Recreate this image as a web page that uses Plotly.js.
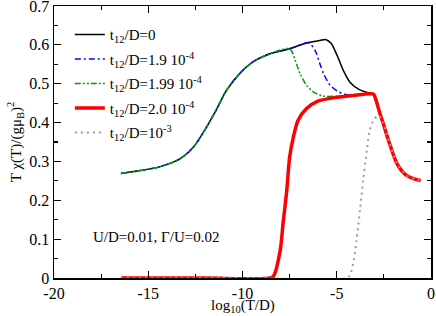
<!DOCTYPE html>
<html><head><meta charset="utf-8">
<script src="https://cdn.plot.ly/plotly-3.0.1.min.js"></script>
<style>html,body{margin:0;padding:0;background:#fff}#c{width:436px;height:316px}</style>
</head><body><div id="c"></div>
<script>
const xBlack = [-16.45,-15.5,-14.4,-13.3,-12.6,-11.9,-11.4,-10.85,-10.15,-9.45,-8.55,-7.5,-6.6,-5.9,-5.6,-5.3,-5.0,-4.65,-4.3,-3.8,-3.25,-3.05,-2.9,-2.75,-2.55,-2.2,-1.8,-1.3,-0.9,-0.55];
const yBlack = [0.269,0.276,0.286,0.307,0.337,0.389,0.432,0.483,0.526,0.556,0.577,0.590,0.605,0.611,0.614,0.604,0.575,0.534,0.504,0.485,0.476,0.473,0.455,0.430,0.400,0.346,0.294,0.264,0.255,0.251];

const xBlue = [-16.45,-15.5,-14.4,-13.3,-12.6,-11.9,-11.4,-10.85,-10.15,-9.45,-8.55,-7.5,-6.5,-6.15,-5.9,-5.7,-5.35,-4.9,-4.3,-3.8,-3.25,-3.05,-2.9,-2.75,-2.55,-2.2,-1.8,-1.3,-0.9,-0.55];
const yBlue = [0.269,0.276,0.286,0.307,0.337,0.389,0.432,0.483,0.526,0.556,0.577,0.590,0.605,0.586,0.552,0.526,0.496,0.479,0.470,0.472,0.474,0.473,0.455,0.430,0.400,0.346,0.294,0.264,0.255,0.251];

const xGreen = [-16.45,-15.5,-14.4,-13.3,-12.6,-11.9,-11.4,-10.85,-10.15,-9.45,-8.55,-7.5,-7.2,-6.95,-6.6,-6.25,-5.7,-5.0,-4.3,-3.25,-3.05,-2.9,-2.75,-2.55,-2.2,-1.8,-1.3,-0.9,-0.55];
const yGreen = [0.269,0.276,0.286,0.307,0.337,0.389,0.432,0.483,0.526,0.556,0.577,0.590,0.560,0.526,0.496,0.479,0.468,0.468,0.470,0.474,0.473,0.455,0.430,0.400,0.346,0.294,0.264,0.255,0.251];

const xRed = [-16.45,-12,-8.5,-8.35,-8.0,-7.85,-7.65,-7.5,-7.3,-7.05,-6.6,-6.0,-5.0,-4.1,-3.25,-3.05,-2.9,-2.75,-2.55,-2.2,-1.8,-1.3,-0.9,-0.55];
const yRed = [0,0,0,0.005,0.071,0.140,0.226,0.311,0.363,0.406,0.436,0.455,0.465,0.470,0.474,0.473,0.455,0.430,0.400,0.346,0.294,0.264,0.255,0.251];

const xPink = [-16.45,-10,-4.45,-4.3,-4.1,-3.95,-3.77,-3.6,-3.4,-3.25,-3.0,-2.75,-2.55,-2.2,-1.8,-1.3,-0.9,-0.55];
const yPink = [0,0,0,0.007,0.046,0.097,0.174,0.251,0.329,0.380,0.410,0.418,0.400,0.346,0.294,0.264,0.255,0.251];

const names = ["t<sub>12</sub>/D=0","t<sub>12</sub>/D=1.9 10<sup>-4</sup>","t<sub>12</sub>/D=1.99 10<sup>-4</sup>","t<sub>12</sub>/D=2.0 10<sup>-4</sup>","t<sub>12</sub>/D=10<sup>-3</sup>"];
const xTicks = [-20,-15,-10,-5,0];
const yTicks = [0,0.1,0.2,0.3,0.4,0.5,0.6,0.7];

const F = 'Liberation Serif';
const traces = [
 {x:xBlack,y:yBlack,name:names[0],line:{color:'#000000',width:1.5,shape:'spline',smoothing:0.8}},
 {x:xBlue,y:yBlue,name:names[1],line:{color:'#0000ff',width:1.5,dash:'6px,3px,2px,3px',shape:'spline',smoothing:0.8}},
 {x:xGreen,y:yGreen,name:names[2],line:{color:'#00a000',width:1.5,dash:'6px,2px,2px,2px,2px,2px',shape:'spline',smoothing:0.8}},
 {x:xRed,y:yRed,name:names[3],line:{color:'#ff0000',width:3.5,shape:'spline',smoothing:0.8}},
 {x:xPink,y:yPink,name:names[4],line:{color:'#bc8f8f',width:2,dash:'2px,4px',shape:'spline',smoothing:0.8}}
].map((t,i)=>Object.assign({type:'scatter',mode:'lines',legendgroup:'g'+i},t));

function axis(extra){
  return Object.assign({showline:true,linewidth:1.5,linecolor:'#000',mirror:'ticks',ticks:'inside',ticklen:7,tickwidth:1.2,tickcolor:'#000',
    showgrid:false,zeroline:false,ticklabeloverflow:'allow',tickfont:{family:F,size:16,color:'#000'}},extra);
}
const layout = {
 width:436,height:316,margin:{l:54,r:5,t:6,b:38},paper_bgcolor:'#fff',plot_bgcolor:'#fff',
 font:{family:F,color:'#000',size:15},
 xaxis:axis({range:[-20,0],tickvals:xTicks,ticktext:xTicks.map(String),
   minor:{dtick:2.5,ticks:'inside',ticklen:4,tickcolor:'#000'}}),
 yaxis:axis({range:[0,0.7],tickvals:yTicks,ticktext:yTicks.map(v=>String(v)),
   minor:{dtick:0.05,ticks:'inside',ticklen:4,tickcolor:'#000'},
   title:{text:'T χ(T)/(gμ<sub>B</sub>)<sup>2</sup>',font:{family:F,size:15},standoff:4}}),
 legend:{x:0.042,y:0.955,xanchor:'left',yanchor:'top',bgcolor:'rgba(0,0,0,0)',font:{family:F,size:15,color:'#000'},itemwidth:30,tracegroupgap:2},
 showlegend:true,
 annotations:[
  {x:-14.6,y:0.105,xref:'x',yref:'y',text:'U/D=0.01, Γ/U=0.02',showarrow:false,font:{family:F,size:15,color:'#000'}},
  {x:0.5,y:-0.14,xref:'paper',yref:'paper',xanchor:'center',yanchor:'bottom',borderpad:0,text:'log<sub>10</sub>(T/D)',showarrow:false,font:{family:F,size:15,color:'#000'}}
 ]
};
Plotly.newPlot('c',traces,layout,{displayModeBar:false,staticPlot:true});
</script></body></html>
